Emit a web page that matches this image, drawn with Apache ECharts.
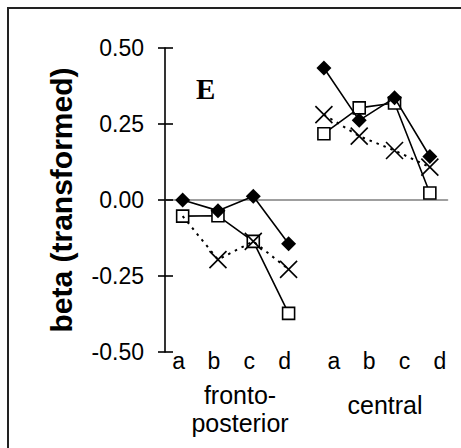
<!DOCTYPE html>
<html>
<head>
<meta charset="utf-8">
<script src="https://cdn.jsdelivr.net/npm/echarts@6/dist/echarts.min.js"></script>
<style>
html,body{margin:0;padding:0;background:#fff;}
#chart{width:461px;height:448px;}
</style>
</head>
<body>
<div id="chart"></div>
<script>
// ---- data ----
var categories = ['a', 'b', 'c', 'd', 'a', 'b', 'c', 'd'];
var groupLabels = ['fronto-\nposterior', 'central'];
var yTicks = [-0.5, -0.25, 0, 0.25, 0.5];
var diamondLeft  = [0.00, -0.035, 0.012, -0.144];
var diamondRight = [0.434, 0.262, 0.336, 0.143];
var squareLeft   = [-0.053, -0.052, -0.136, -0.373];
var squareRight  = [0.218, 0.303, 0.319, 0.023];
var crossLeft    = [-0.053, -0.196, -0.136, -0.228];
var crossRight   = [0.281, 0.210, 0.163, 0.108];
var yTitle = 'beta (transformed)';
var panelLetter = 'E';

// ---- build ----
var FONT = '"Liberation Sans", Arial, sans-serif';
function leftPart(arr){ return arr.concat(['-','-','-','-']); }
function rightPart(arr){ return ['-','-','-','-'].concat(arr); }

var crossPath = 'path://M0,0L10,10M10,0L0,10';

function mkSeries(data, kind){
  var s = {
    type: 'line',
    data: data,
    connectNulls: false,
    animation: false,
    silent: true,
    lineStyle: {color: '#000', width: 1.6}
  };
  if (kind === 'diamond') {
    s.symbol = 'diamond'; s.symbolSize = [15, 15]; s.z = 5;
    s.itemStyle = {color: '#000', borderColor: '#000', borderWidth: 0};
  } else if (kind === 'square') {
    s.symbol = 'rect'; s.symbolSize = [12, 12]; s.z = 3;
    s.itemStyle = {color: '#fff', borderColor: '#000', borderWidth: 1.6};
  } else {
    s.symbol = crossPath; s.symbolSize = [17, 17]; s.z = 4;
    s.itemStyle = {color: 'none', borderColor: '#000', borderWidth: 1.6};
    s.lineStyle = {color: '#000', width: 2, type: [2.5, 5]};
  }
  return s;
}

// first cross marker sits hidden behind the square in the original
var crossLeftData = leftPart(crossLeft).map(function(v, i){
  return i === 0 ? {value: v, symbol: 'none'} : v;
});

var chart = echarts.init(document.getElementById('chart'), null, {renderer: 'svg'});
var option = {
  backgroundColor: '#fff',
  animation: false,
  title: {
    text: panelLetter,
    left: 191, top: 69,
    textStyle: {fontFamily: '"Liberation Serif", "Times New Roman", serif', fontWeight: 'bold', fontSize: 29, color: '#000'}
  },
  grid: {left: 165, top: 48, right: 13.5, bottom: 96},
  xAxis: [{
    type: 'category',
    data: categories,
    boundaryGap: true,
    axisLine: {show: true, onZero: true, lineStyle: {color: '#808080', width: 1.6}},
    axisTick: {show: false},
    axisLabel: {show: false},
    splitLine: {show: false}
  }, {
    type: 'category',
    data: categories,
    position: 'bottom',
    boundaryGap: true,
    axisLine: {show: false, onZero: false},
    axisTick: {show: false},
    axisLabel: {
      show: true, interval: 0, margin: -3,
      formatter: function(v, i){ return (i < 4 ? '{l|' : '{r|') + v + '}'; },
      rich: {
        l: {fontFamily: FONT, fontSize: 23, color: '#000', padding: [0, 8, 0, 0]},
        r: {fontFamily: FONT, fontSize: 23, color: '#000', padding: [0, 0, 0, 20]}
      }
    },
    splitLine: {show: false}
  }],
  yAxis: [{
    type: 'value',
    min: yTicks[0], max: yTicks[yTicks.length - 1], interval: 0.25,
    axisLine: {show: true, lineStyle: {color: '#000', width: 1.6}},
    axisTick: {show: true, length: 7, lineStyle: {color: '#000', width: 1.6}},
    axisLabel: {
      margin: 21, fontFamily: FONT, fontSize: 23, color: '#000',
      formatter: function(v){ return v.toFixed(2); }
    },
    splitLine: {show: false},
    name: yTitle,
    nameLocation: 'middle',
    nameGap: 89,
    nameRotate: 90,
    nameTextStyle: {fontFamily: FONT, fontWeight: 'bold', fontSize: 30, color: '#000'}
  }, {
    type: 'value',
    min: yTicks[0], max: yTicks[yTicks.length - 1], interval: 0.25,
    position: 'left',
    axisLine: {show: false},
    axisTick: {show: true, inside: true, length: 8, lineStyle: {color: '#000', width: 1.6}},
    axisLabel: {show: false},
    splitLine: {show: false}
  }],
  series: [
    mkSeries(crossLeftData, 'cross'),
    mkSeries(rightPart(crossRight), 'cross'),
    mkSeries(leftPart(squareLeft), 'square'),
    mkSeries(rightPart(squareRight), 'square'),
    mkSeries(leftPart(diamondLeft), 'diamond'),
    mkSeries(rightPart(diamondRight), 'diamond')
  ],
  graphic: [
    {type: 'rect', shape: {x: 8, y: 8, width: 480, height: 480}, style: {fill: 'none', stroke: '#222', lineWidth: 2}, silent: true},
    {type: 'text', x: 240, y: 409, style: {text: groupLabels[0], fontFamily: FONT, fontSize: 25, lineHeight: 28, fill: '#000', textAlign: 'center', textVerticalAlign: 'middle'}},
    {type: 'text', x: 385, y: 405, style: {text: groupLabels[1], fontFamily: FONT, fontSize: 25, lineHeight: 28, fill: '#000', textAlign: 'center', textVerticalAlign: 'middle'}}
  ]
};
chart.setOption(option);
</script>
</body>
</html>
